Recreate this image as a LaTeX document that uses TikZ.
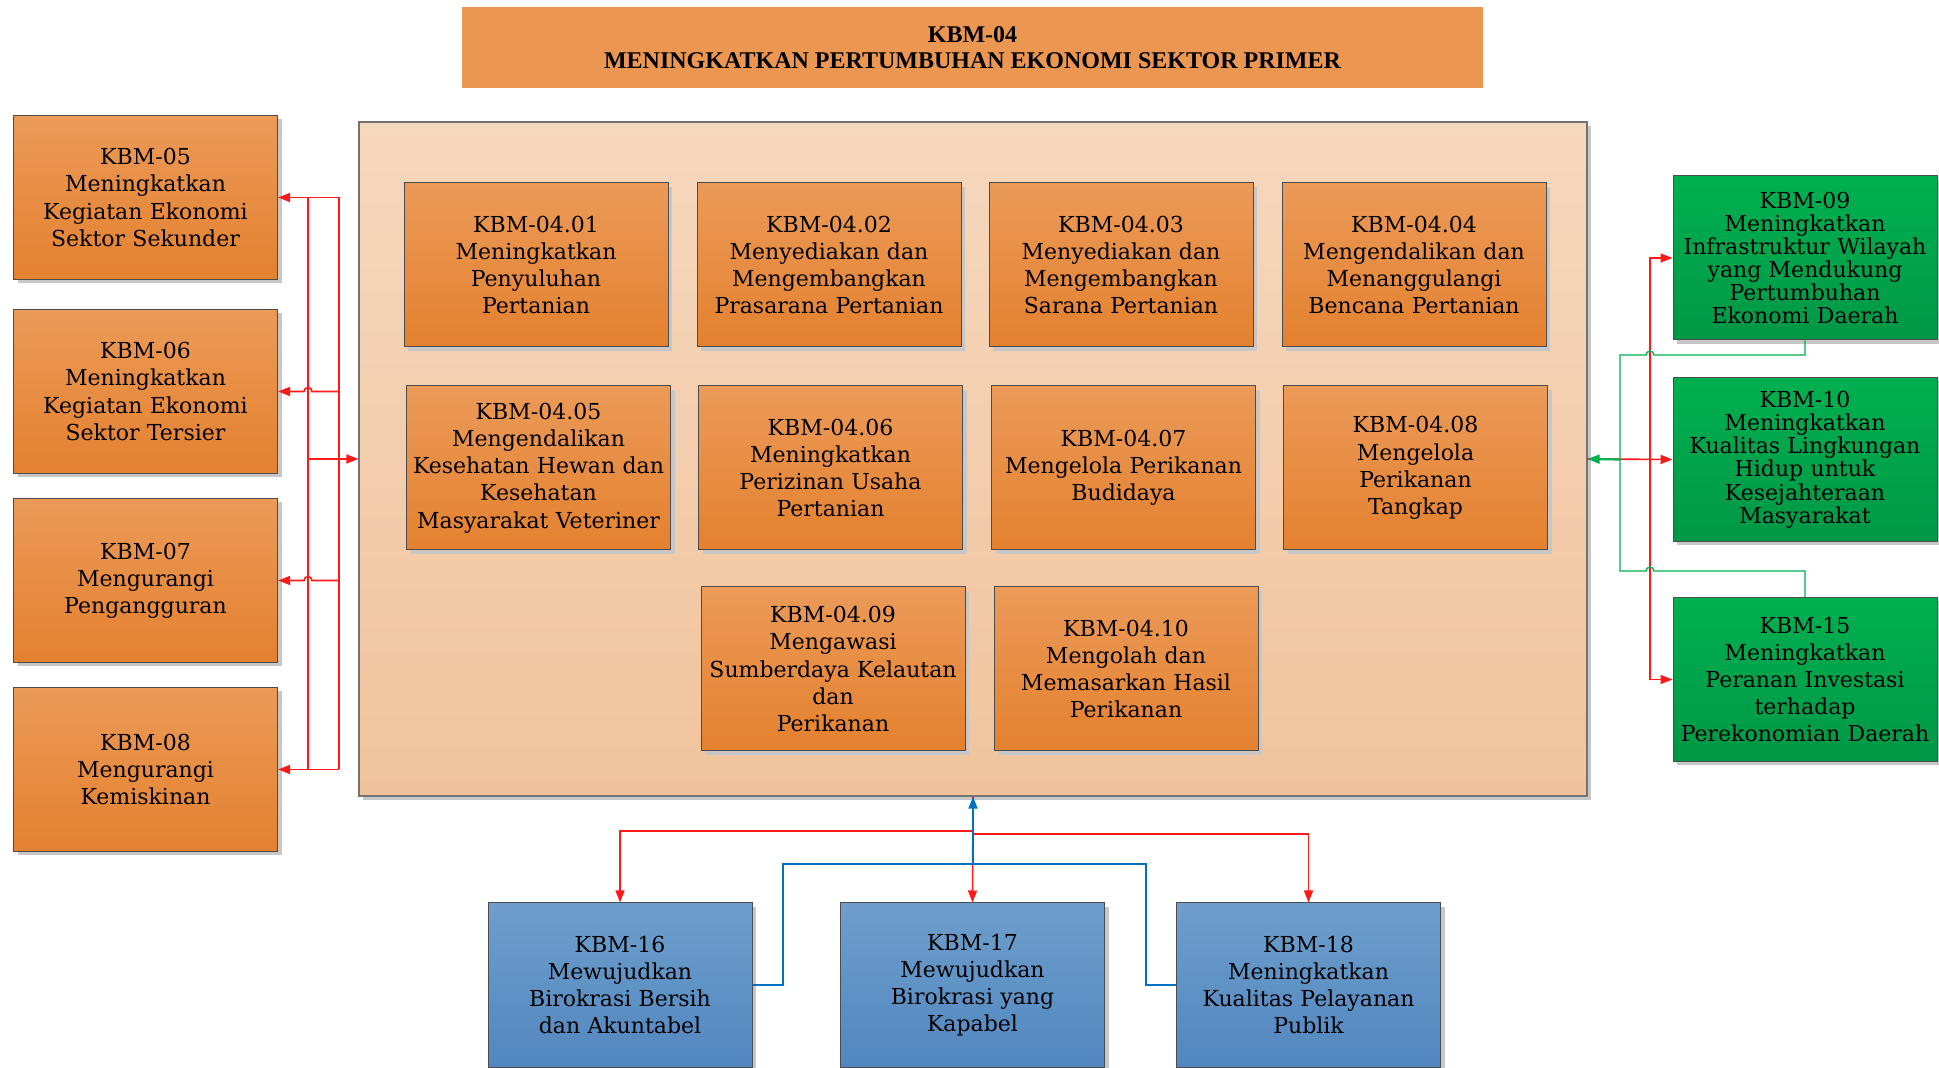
\documentclass[tikz,border=0pt]{standalone}
\usepackage{fontspec}
\setmainfont{DejaVu Serif}
\newfontfamily\titlefont{Liberation Serif}
\usetikzlibrary{arrows.meta,shadows}
\definecolor{orgtop}{HTML}{EB9A58}
\definecolor{orgbot}{HTML}{E4812F}
\definecolor{grntop}{HTML}{00B050}
\definecolor{grnbot}{HTML}{009846}
\definecolor{blutop}{HTML}{6D9ECB}
\definecolor{blubot}{HTML}{5287C0}
\definecolor{pantop}{HTML}{F6D8BE}
\definecolor{panbot}{HTML}{F0C39C}
\definecolor{titlefill}{HTML}{EB9752}
\definecolor{redln}{HTML}{FF1A1A}
\definecolor{grnln}{HTML}{00B050}
\definecolor{bluln}{HTML}{0070C0}
\begin{document}
\begin{tikzpicture}[x=0.5pt, y=-0.5pt, line join=miter, >={Triangle[length=6pt,width=4.5pt]},
 kbm/.style={draw=black!70, line width=0.5pt, minimum width=132pt, minimum height=82pt, inner sep=1pt, text width=130pt, align=center, font=\fontsize{11}{13.6}\selectfont, drop shadow={shadow xshift=2pt, shadow yshift=-2pt, fill=black!22, opacity=1}},
 orangebox/.style={kbm, top color=orgtop, bottom color=orgbot},
 greenbox/.style={kbm, top color=grntop, bottom color=grnbot, font=\fontsize{11}{11.6}\selectfont},
 bluebox/.style={kbm, top color=blutop, bottom color=blubot},
 redline/.style={redln, line width=0.8pt},
 greenline/.style={grnln, line width=0.7pt},
 blueline/.style={bluln, line width=0.8pt}]
\useasboundingbox (0,0) rectangle (1939,1068);
\node[fill=titlefill, minimum width=510.5pt, minimum height=40.5pt, align=center, font=\titlefont\bfseries\fontsize{12}{13.2}\selectfont] (kbm04) at (972.5,47.5) {KBM-04\\MENINGKATKAN PERTUMBUHAN EKONOMI SEKTOR PRIMER};
\node[draw=black!55, line width=0.6pt, top color=pantop, bottom color=panbot, minimum width=614pt, minimum height=337pt, drop shadow={shadow xshift=2pt, shadow yshift=-2pt, fill=black!22, opacity=1}] (panel) at (973,459) {};
\node[orangebox] (s01) at (536,265) {KBM-04.01\\Meningkatkan\\Penyuluhan\\Pertanian};
\node[orangebox] (s02) at (829,265) {KBM-04.02\\Menyediakan dan\\Mengembangkan\\Prasarana Pertanian};
\node[orangebox] (s03) at (1121,265) {KBM-04.03\\Menyediakan dan\\Mengembangkan\\Sarana Pertanian};
\node[orangebox] (s04) at (1414,265) {KBM-04.04\\Mengendalikan dan\\Menanggulangi\\Bencana Pertanian};
\node[orangebox] (s05) at (538.5,468) {KBM-04.05\\Mengendalikan\\Kesehatan Hewan dan\\Kesehatan\\Masyarakat Veteriner};
\node[orangebox] (s06) at (830.5,468) {KBM-04.06\\Meningkatkan\\Perizinan Usaha\\Pertanian};
\node[orangebox] (s07) at (1123.5,468) {KBM-04.07\\Mengelola Perikanan\\Budidaya};
\node[orangebox] (s08) at (1415.5,468) {KBM-04.08\\Mengelola\\Perikanan\\Tangkap};
\node[orangebox] (s09) at (833,669) {KBM-04.09\\Mengawasi\\Sumberdaya Kelautan\\dan\\Perikanan};
\node[orangebox] (s10) at (1126,669) {KBM-04.10\\Mengolah dan\\Memasarkan Hasil\\Perikanan};
\node[orangebox] (kbm05) at (145.5,197.5) {KBM-05\\Meningkatkan\\Kegiatan Ekonomi\\Sektor Sekunder};
\node[orangebox] (kbm06) at (145.5,391.5) {KBM-06\\Meningkatkan\\Kegiatan Ekonomi\\Sektor Tersier};
\node[orangebox] (kbm07) at (145.5,580.5) {KBM-07\\Mengurangi\\Pengangguran};
\node[orangebox] (kbm08) at (145.5,769.5) {KBM-08\\Mengurangi\\Kemiskinan};
\node[greenbox] (kbm09) at (1805,258) {KBM-09\\Meningkatkan\\Infrastruktur Wilayah\\yang Mendukung\\Pertumbuhan\\Ekonomi Daerah};
\node[greenbox] (kbm10) at (1805,459.5) {KBM-10\\Meningkatkan\\Kualitas Lingkungan\\Hidup untuk\\Kesejahteraan\\Masyarakat};
\node[greenbox, font=\fontsize{11}{13.6}\selectfont] (kbm15) at (1805,679.5) {KBM-15\\Meningkatkan\\Peranan Investasi\\terhadap\\Perekonomian Daerah};
\node[bluebox] (kbm16) at (620,985) {KBM-16\\Mewujudkan\\Birokrasi Bersih\\dan Akuntabel};
\node[bluebox] (kbm17) at (972.5,985) {KBM-17\\Mewujudkan\\Birokrasi yang\\Kapabel};
\node[bluebox] (kbm18) at (1308.5,985) {KBM-18\\Meningkatkan\\Kualitas Pelayanan\\Publik};
% kiri
\draw[redline,->] (308,459) -- (panel.west);
\draw[redline] (308,197.5) -- (308,769.5) (339,197.5) -- (339,769.5);
\draw[redline,->] (339,197.5) -- (kbm05.east);
\draw[redline,->] (339,769.5) -- (kbm08.east);
\foreach \n/\y in {kbm06/391.5,kbm07/580.5}
 \draw[redline,->] (339,\y) -- (312,\y) arc[start angle=0, end angle=-180, radius=4] -- (\n.east);
% kanan
\draw[redline,->] (panel.east) -- (kbm10.west);
\draw[redline,->] (1650,459.5) |- (kbm09.west);
\draw[redline,->] (1650,459.5) |- (kbm15.west);
\draw[greenline] (kbm09.south) -- (1805,355) -- (1654,355) arc[start angle=0, end angle=-180, radius=4] -- (1620,355) -- (1620,571) -- (1646,571) arc[start angle=180, end angle=360, radius=4] -- (1805,571) -- (kbm15.north);
\draw[greenline, line width=1.1pt, ->] (1620,459.5) -- (panel.east);
% bawah
\draw[redline,->] (panel.south) -- (kbm17.north);
\draw[redline,->] (973,831) -| (kbm16.north);
\draw[redline,->] (973,834) -| (kbm18.north);
\draw[blueline] (kbm16.east) -| (783,864) -- (1146,864) |- (kbm18.west);
\draw[blueline,->] (973,864) -- (panel.south);
\end{tikzpicture}
\end{document}
